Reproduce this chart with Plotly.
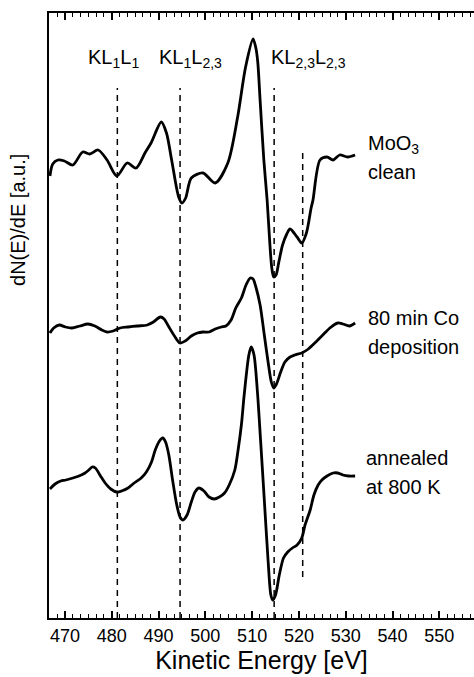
import plotly.graph_objects as go

# ---- data (energies in eV, intensities in arbitrary units) ----
e_clean = [466.8, 467.4, 468.5, 469.9, 471.7, 473.8, 475.3, 477.1, 479.0, 481.1, 483.3, 485.2,
           487.1, 488.4, 490.6, 491.7, 492.8, 494.3, 495.0, 495.8, 497.0, 499.5, 502.1, 504.8,
           506.9, 508.6, 510.2, 510.8, 511.2, 511.7, 512.5, 513.2, 513.8, 514.2, 514.6, 515.1,
           515.7, 516.5, 517.4, 518.1, 519.6, 520.6, 521.6, 522.6, 523.0, 524.5, 526.0, 527.3,
           528.7, 530.4, 532.0]
y_clean = [44.2, 45.4, 45.8, 45.7, 45.3, 46.6, 46.4, 46.8, 45.8, 44.2, 45.5, 45.0,
           46.5, 47.5, 49.6, 48.5, 45.8, 42.1, 41.5, 42.0, 44.0, 44.5, 43.5, 45.5,
           50.1, 55.1, 57.9, 57.0, 55.6, 51.8, 45.8, 41.8, 37.3, 35.0, 34.1, 34.3,
           35.6, 37.3, 38.4, 38.9, 38.1, 37.5, 38.5, 41.0, 41.8, 45.8, 46.1, 45.8,
           46.3, 46.1, 46.3]

e_co = [466.8, 467.6, 468.8, 470.1, 471.5, 473.2, 474.9, 476.4, 477.9, 479.0, 480.3, 481.8,
        483.5, 485.4, 487.6, 488.9, 490.4, 491.2, 492.1, 493.4, 494.6, 495.7, 497.0, 498.3,
        499.5, 500.8, 502.1, 503.4, 504.4, 505.5, 506.5, 507.7, 508.7, 509.6, 510.2, 510.8,
        511.7, 512.6, 513.5, 514.1, 514.6, 515.2, 516.1, 517.0, 518.1, 519.1, 520.6, 522.0,
        523.6, 525.3, 526.6, 528.3, 529.4, 530.8, 532.0]
y_co = [28.5, 29.0, 29.3, 29.1, 29.0, 29.2, 29.4, 29.2, 28.8, 28.6, 28.7, 29.0,
        29.1, 29.2, 29.3, 29.6, 30.1, 29.9, 29.2, 28.2, 27.5, 27.7, 28.2, 28.5,
        28.6, 28.6, 28.9, 29.1, 29.2, 29.8, 31.0, 32.0, 33.3, 34.0, 33.9, 33.1,
        31.3, 28.3, 25.3, 23.6, 23.0, 23.4, 24.6, 25.6, 26.1, 26.3, 26.5, 26.9,
        27.6, 28.4, 29.0, 29.5, 29.4, 29.2, 29.5]

e_ann = [466.8, 467.9, 469.1, 470.2, 471.7, 473.0, 474.3, 475.1, 475.8, 476.5, 477.6, 478.6,
         479.8, 481.1, 482.1, 483.5, 484.8, 486.3, 487.4, 488.5, 489.3, 490.2, 490.9, 491.5,
         492.2, 493.0, 493.9, 494.6, 495.2, 496.1, 497.0, 497.8, 498.6, 499.7, 500.8, 501.9,
         503.0, 504.1, 505.1, 506.3, 507.0, 507.7, 508.3, 509.3, 509.8, 510.4, 511.1, 511.8,
         512.6, 513.4, 514.0, 514.4, 515.0, 515.8, 516.7, 517.6, 518.6, 519.6, 520.6, 521.3,
         522.4, 523.2, 524.1, 524.9, 526.0, 527.3, 528.3, 529.4, 530.6, 532.0]
y_ann = [12.9, 13.4, 13.7, 13.8, 14.0, 14.2, 14.5, 14.8, 15.1, 15.0, 14.2, 13.5,
         12.9, 12.6, 12.7, 13.0, 13.5, 14.0, 14.6, 15.6, 16.8, 17.7, 18.0, 17.6,
         16.3, 13.8, 11.3, 10.1, 9.8, 10.3, 11.6, 12.6, 13.0, 12.7, 12.1, 11.9,
         12.1, 12.5, 13.3, 14.8, 16.8, 19.3, 22.3, 26.3, 27.1, 26.3, 22.8, 17.8,
         11.8, 5.8, 2.3, 1.8, 2.3, 4.3, 6.0, 6.6, 7.0, 7.3, 8.0, 9.3,
         10.8, 12.3, 13.3, 13.8, 14.2, 14.5, 14.5, 14.3, 14.2, 14.2]

# reference transition energies (dashed markers) and their vertical extents
e_marks = [481.2, 494.6, 514.7, 520.8]
y_mark_top = [53.0, 53.0, 53.0, 46.6]
y_mark_bot = [0.0, 0.0, 0.0, 4.1]

label_text = ["KL<sub>1</sub>L<sub>1</sub>", "KL<sub>1</sub>L<sub>2,3</sub>",
              "KL<sub>2,3</sub>L<sub>2,3</sub>"]
label_e = [474.6, 489.6, 513.7]

FONT = "Liberation Sans, Arial, sans-serif"

fig = go.Figure()

for e, yt, yb in zip(e_marks, y_mark_top, y_mark_bot):
    fig.add_trace(go.Scatter(x=[e, e], y=[yb, yt], mode="lines",
                             line=dict(color="black", width=1.5, dash="6px,5px"),
                             hoverinfo="skip", showlegend=False))

for ex, ey in [(e_clean, y_clean), (e_co, y_co), (e_ann, y_ann)]:
    fig.add_trace(go.Scatter(x=ex, y=ey, mode="lines",
                             line=dict(color="black", width=2.8, shape="spline", smoothing=0.8),
                             showlegend=False))

ann = []
for t, e in zip(label_text, label_e):
    ann.append(dict(x=e, y=56.0, xref="x", yref="y", text=t, showarrow=False,
                    xanchor="left", yanchor="middle", font=dict(size=20, color="black", family=FONT)))

side = [("MoO<sub>3</sub>", 534.3, 47.4), ("clean", 534.3, 44.6),
        ("80 min Co", 534.3, 30.0), ("deposition", 534.3, 27.1),
        ("annealed", 534.0, 16.0), ("at 800 K", 534.0, 13.1)]
for t, x, y in side:
    ann.append(dict(x=x, y=y, xref="x", yref="y", text=t, showarrow=False,
                    xanchor="left", yanchor="middle", font=dict(size=20, color="black", family=FONT)))

ann.append(dict(x=-0.073, y=39.8, xref="paper", yref="y", text="dN(E)/dE [a.u.]", textangle=-90,
                showarrow=False, xanchor="center", yanchor="middle",
                font=dict(size=20, color="black", family=FONT)))

fig.update_layout(
    width=474, height=677,
    margin=dict(l=49, r=0, t=13, b=59),
    paper_bgcolor="white", plot_bgcolor="white",
    annotations=ann,
    font=dict(family=FONT, color="black"),
)
fig.update_xaxes(
    range=[466.6, 557.4], showgrid=False, zeroline=False,
    showline=True, linecolor="black", linewidth=2, mirror="ticks",
    ticks="inside", ticklen=7, tickwidth=1.5, tickcolor="black",
    tick0=470, dtick=10, tickfont=dict(size=18, family=FONT, color="black"),
    minor=dict(ticks="inside", ticklen=4, tickwidth=1.2, tickcolor="black", dtick=10/6, tick0=470),
    title=dict(text="Kinetic Energy [eV]", font=dict(size=25, family=FONT, color="black"), standoff=4),
)
fig.update_yaxes(
    range=[0, 60.5], showgrid=False, zeroline=False, showticklabels=False, ticks="",
    showline=True, linecolor="black", linewidth=2, mirror=False,
)

fig.write_html("out.html")
